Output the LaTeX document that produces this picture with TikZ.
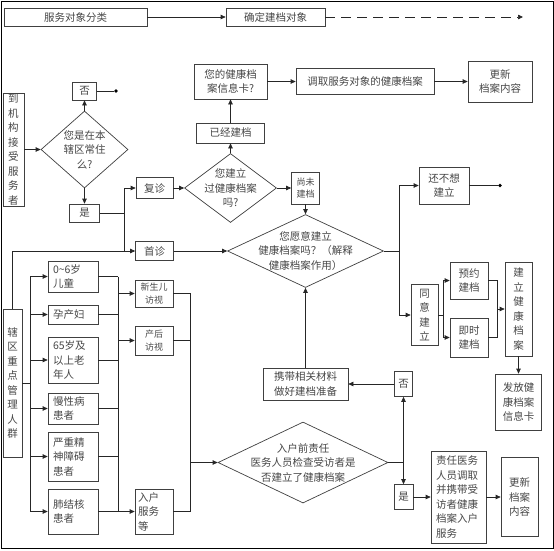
\documentclass[tikz,border=0pt]{standalone}
\usepackage{fontspec}
\setmainfont{Noto Sans CJK SC}
\usetikzlibrary{arrows.meta,shapes.geometric,shadows}
\begin{document}
\begin{tikzpicture}[x=1pt,y=-1pt,
  line width=0.7pt,
  every node/.style={text=black!72, font=\fontsize{10.5}{14.5}\selectfont},
  sz/.style 2 args={minimum width=#1pt, minimum height=#2pt},
  box/.style={draw=black!75, fill=white, inner sep=0pt, align=center,
    drop shadow={shadow xshift=0.9pt,shadow yshift=-0.9pt,opacity=0.35}},
  lbox/.style={box, align=left, text width=#1pt},
  dia/.style={draw=black!75, diamond, inner sep=0pt, fill=white},
  lab/.style={align=center, inner sep=0pt},
  arr/.style={draw=black!85, -{Triangle[length=5pt,width=4.5pt]}},
  ln/.style={draw=black!85},
  dotn/.style={circle, fill=black, inner sep=0pt, minimum size=3.6pt},
  small/.style={font=\fontsize{9}{12.5}\selectfont},
]
\useasboundingbox (0,0) rectangle (554,550);
\draw[line width=1pt, black] (1,1) rectangle (553,548);

% top row
\node[box, sz={143}{18}] (t1) at (75.5,17) {服务对象分类};
\node[box, sz={99}{18}] (t2) at (275.5,17) {确定建档对象};
\coordinate (t3) at (523,17);
\draw[arr] (t1) -- (t2);
\draw[arr, dash pattern=on 10pt off 6pt] (t2) -- (t3);

% left: arrival
\node[box, sz={21}{113}] (a1) at (13.5,149.5) {到\\机\\构\\接\\受\\服\\务\\者};
\node[dia, sz={87}{77}, label={[lab]center:{您是在本\\辖区常住\\么?}}] (d1) at (84.5,149.5) {};
\node[box, sz={24}{18}] (no1) at (84.5,91) {否};
\node[dotn] (dot1) at (116,91) {};
\node[box, sz={30}{18}] (yes1) at (84.5,213) {是};
\draw[arr] (a1) -- (d1);
\draw[arr] (d1) -- (no1);
\draw[arr] (d1) -- (yes1);
\draw[ln] (no1) -- (dot1);
\coordinate (j1) at (124,213);
\coordinate (j2) at (124,251);
\node[box, sz={37}{21}] (fz) at (154.5,188) {复诊};
\node[box, sz={38}{19}] (sz) at (154.5,251) {首诊};
\draw[ln] (yes1) -- (j1);
\draw[arr] (j1) |- (fz);
\draw[ln] (j1) -- (j2);

% key group box
\node[box, sz={19}{148}] (g1) at (12.5,383) {辖\\区\\重\\点\\管\\理\\人\\群};
\draw[arr] (g1.north) |- (sz.west);

% existing record branch
\node[dia, sz={92}{69}, label={[lab]center:{您建立\\过健康档案\\吗?}}] (d2) at (230.5,188) {};
\node[box, sz={68}{20}] (yj) at (230.5,133) {已经建档};
\node[box, sz={73}{35}] (card) at (230.5,81.5) {您的健康档\\案信息卡?};
\node[box, sz={138}{26}] (dq) at (365,81.5) {调取服务对象的健康档案};
\node[box, sz={64}{41}] (gx1) at (500,81.5) {更新\\档案内容};
\draw[arr] (fz) -- (d2);
\draw[arr] (d2) -- (yj);
\draw[arr] (yj) -- (card);
\draw[arr] (card) -- (dq);
\draw[arr] (dq) -- (gx1);

% not yet
\node[box, small, sz={28}{32}] (sw) at (305.5,188) {尚未\\建档};
\node[dia, sz={156}{73}, label={[lab]center:{您愿意建立\\健康档案吗？（解释\\健康档案作用）}}] (d3) at (305.5,251) {};
\draw[arr] (d2) -- (sw);
\draw[arr] (sw) -- (d3);
\draw[arr] (sz) -- (d3);

% willingness branch
\coordinate (j3) at (399,251);
\node[box, sz={50}{37}] (bx) at (444,185.5) {还不想\\建立};
\node[dotn] (dot2) at (500,185.5) {};
\node[box, sz={27}{61}] (ty) at (424.5,315) {同\\意\\建\\立};
\draw[ln] (d3.east) -- (j3);
\draw[arr] (j3) |- (bx);
\draw[arr] (j3) |- (ty);
\draw[ln] (bx) -- (dot2);
\coordinate (j4) at (443,315);
\node[box, sz={38}{37}] (yy) at (469,280.5) {预约\\建档};
\node[box, sz={38}{39}] (js) at (469,337.5) {即时\\建档};
\draw[ln] (ty) -- (j4);
\draw[arr] (j4) |- (yy);
\draw[arr] (j4) |- (js);
\coordinate (j5) at (497,309);
\node[box, sz={27}{94}] (jl) at (518.5,309) {建\\立\\健\\康\\档\\案};
\node[box, sz={46}{56}] (ff) at (518.5,402) {发放健\\康档案\\信息卡};
\draw[ln] (yy) -| (j5);
\draw[ln] (js) -| (j5);
\draw[arr] (j5) -- (jl);
\draw[arr] (jl) -- (ff);

% home visit branch
\node[box, sz={18}{25}] (no2) at (403.5,384) {否};
\node[box, sz={85}{32}] (xd) at (305.5,384) {携带相关材料\\做好建档准备};
\draw[arr] (no2) -- (xd);
\draw[arr] (xd) -- (d3);
\node[dia, sz={170}{81}, label={[lab]center:{入户前责任\\医务人员检查受访者是\\否建立了健康档案}}] (d4) at (303,462.5) {};
\coordinate (j6) at (403.5,462.5);
\node[box, sz={19}{25}] (yes2) at (403.5,497) {是};
\draw[ln] (d4.east) -- (j6);
\draw[arr] (j6) -- (no2);
\draw[arr] (j6) -- (yes2);
\node[lbox=45, sz={55}{92}, inner xsep=4pt] (zr) at (458.5,497) {责任医务\\人员调取\\并携带受\\访者健康\\档案入户\\服务};
\node[box, sz={37}{79}] (gx2) at (519.5,497) {更新\\档案\\内容};
\draw[arr] (yes2) -- (zr);
\draw[arr] (zr) -- (gx2);

% groups
\node[lbox=40, sz={50}{31}, inner xsep=5pt] (c1) at (73,276.5) {0\textasciitilde6岁\\儿童};
\node[lbox=40, sz={50}{19}, inner xsep=5pt] (c2) at (73,314.5) {孕产妇};
\node[lbox=40, sz={50}{46}, inner xsep=5pt] (c3) at (73,360) {65岁及\\以上老\\年人};
\node[lbox=40, sz={50}{31}, inner xsep=5pt] (c4) at (73,408.5) {慢性病\\患者};
\node[lbox=40, sz={50}{49}, inner xsep=5pt] (c5) at (73,456.5) {严重精\\神障碍\\患者};
\node[lbox=40, sz={50}{45}, inner xsep=5pt] (c6) at (73,511.5) {肺结核\\患者};
\coordinate (b1) at (30,383);
\draw[ln] (g1.east) -- (b1);
\foreach \c in {c1,c2,c3,c4,c5,c6} \draw[arr] (b1) |- (\c.west);
\coordinate (r1) at (118,276.5);
\coordinate (r6) at (118,511.5);
\draw[ln] (r1) -- (r6);
\foreach \c in {c1,c2,c3,c4,c5,c6} \draw[ln] (\c.east) -- (\c.east -| r1);

\node[box, small, sz={38}{27}] (xs) at (154,293.5) {新生儿\\访视};
\node[box, small, sz={38}{29}] (ch) at (154,340.5) {产后\\访视};
\node[lbox=32, sz={38}{45}, inner xsep=3pt] (rh) at (154,511.5) {入户\\服务\\等};
\draw[arr] (xs.west -| r1) -- (xs);
\draw[arr] (ch.west -| r1) -- (ch);
\draw[arr] (rh.west -| r1) -- (rh);
\coordinate (s0) at (190,462.5);
\draw[ln] (xs.east) -| (s0);
\draw[ln] (ch.east) -| (s0);
\draw[ln] (rh.east) -| (s0);
\draw[arr] (s0) -- (d4);
\end{tikzpicture}
\end{document}
